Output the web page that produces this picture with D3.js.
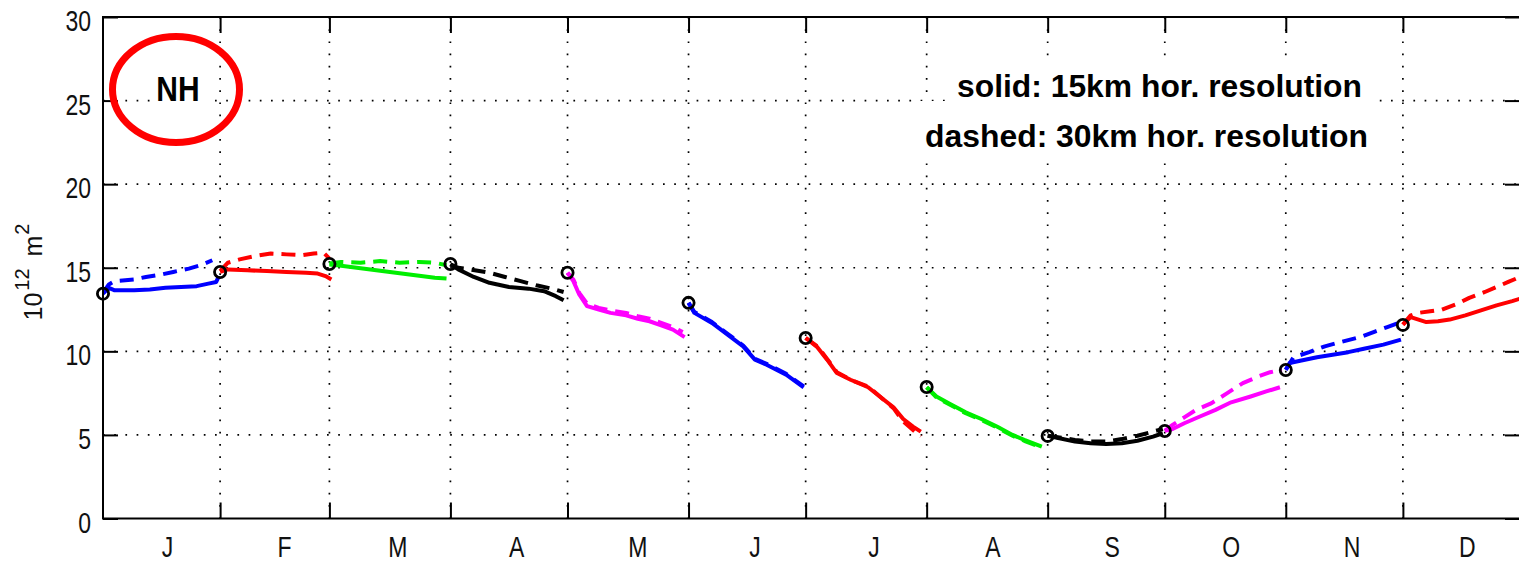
<!DOCTYPE html>
<html><head><meta charset="utf-8">
<script src="https://cdn.jsdelivr.net/npm/d3@7/dist/d3.min.js"></script>
<style>body{margin:0;background:#fff} svg{display:block}</style>
</head><body>
<svg id="c" width="1519" height="563"></svg>
<script>
// ---------- data ----------
const monthLabels = ["J","F","M","A","M","J","J","A","S","O","N","D"];
const monthLabelDays = [17.5,47.5,76.5,107,138,168,198.5,229,259.5,290,321,350.5];
const monthStartDays = [1,31,59,90,120,151,181,212,243,273,304,334];
const boundaryDays = [31,59,90,120,151,181,212,243,273,304,334];
const yTicks = [0,5,10,15,20,25,30];
const gridY = [5,10,15,20,25];
const markerValues = [13.45,14.75,15.22,15.22,14.7,12.9,10.8,7.87,4.94,5.23,8.88,11.58];
const monthColors = ["#0000ff","#ff0000","#00ee00","#000000","#ff00ff","#0000ff","#ff0000","#00ee00","#000000","#ff00ff","#0000ff","#ff0000"];

const solidJan  = [[1,13.45],[2.5,13.8],[4,13.65],[9,13.65],[13,13.7],[17,13.8],[21,13.85],[25,13.9],[28,14.05],[30,14.15],[30.7,14.5]];
const dashedJan = [[1,13.5],[2.5,14.0],[4,14.2],[9,14.3],[12,14.45],[16,14.6],[19,14.75],[23,14.95],[26,15.15],[29,15.45]];
const solidFeb  = [[31,14.75],[33,14.9],[38,14.85],[43,14.8],[48,14.75],[53,14.7],[56,14.65],[58,14.5],[59.5,14.3]];
const dashedFeb = [[31,14.8],[33,15.3],[36,15.5],[40,15.7],[44,15.85],[48,15.8],[52,15.75],[55,15.85],[57.5,15.9],[59,15.55]];
const solidMar  = [[59,15.2],[61,15.15],[66,15.0],[71,14.85],[76,14.7],[81,14.55],[86,14.4],[89,14.35]];
const dashedMar = [[59,15.25],[62,15.35],[67,15.3],[72,15.4],[77,15.3],[82,15.35],[86,15.3],[89,15.15]];
const solidApr  = [[90,15.2],[92,14.9],[96,14.45],[100,14.1],[105,13.85],[110,13.75],[114,13.6],[117,13.3],[119,13.05]];
const dashedApr = [[90,15.2],[92,15.0],[95,14.9],[100,14.7],[104,14.45],[108,14.2],[112,13.95],[116,13.75],[119,13.55]];
const solidMay  = [[120,14.7],[121.5,14.2],[123,13.4],[125,12.7],[128,12.5],[131,12.3],[135,12.15],[138,11.95],[141,11.8],[144,11.55],[147,11.3],[150,10.85]];
const dashedMay = [[120,14.7],[121.5,14.3],[123,13.5],[125,12.85],[128,12.6],[131,12.45],[135,12.3],[138,12.1],[141,11.95],[144,11.7],[147,11.45],[149.5,11.15]];
const solidJun  = [[151,12.9],[152.5,12.3],[157,11.7],[161,11.0],[165,10.3],[168,9.5],[171,9.2],[176,8.6],[180.5,7.85]];
const dashedJun = [[151,12.9],[152.5,12.35],[157,11.75],[161,11.05],[165,10.35],[168,9.55],[171,9.25],[176,8.65],[180.5,7.9]];
const solidJul  = [[181,10.8],[184,10.25],[186.5,9.5],[189,8.7],[192.5,8.3],[197,7.85],[200,7.3],[203.5,6.65],[206,5.95],[208.5,5.5],[210.5,5.2]];
const dashedJul = [[181,10.8],[184,10.3],[186.5,9.55],[189,8.75],[192.5,8.3],[197,7.9],[200,7.3],[203.5,6.6],[206,5.8],[208.5,5.3],[210.5,4.9]];
const solidAug  = [[212,7.85],[214.5,7.3],[218,6.85],[222,6.35],[226,5.95],[230,5.5],[234,5.0],[237,4.7],[241.5,4.3]];
const dashedAug = [[212,7.85],[214.5,7.25],[218,6.8],[222,6.3],[226,5.9],[230,5.45],[234,4.95],[237,4.65],[241.5,4.25]];
const solidSep  = [[243,4.95],[246,4.8],[250,4.6],[254,4.5],[258,4.45],[262,4.5],[266,4.65],[270,4.9],[272.5,5.1]];
const dashedSep = [[243,4.95],[246,4.85],[250,4.7],[254,4.6],[258,4.6],[262,4.75],[266,4.95],[270,5.2],[272.5,5.35]];
const solidOct  = [[273,5.25],[275,5.35],[278,5.7],[282,6.1],[286,6.5],[290,6.95],[295,7.3],[299,7.6],[302.5,7.85]];
const dashedOct = [[273,5.25],[275,5.6],[278,6.05],[281,6.5],[285,6.9],[289,7.5],[293,8.1],[297,8.5],[300,8.75],[303,8.9]];
const solidNov  = [[304,8.9],[305,9.3],[308,9.45],[312,9.65],[316,9.8],[320,9.95],[324,10.15],[329,10.4],[333.5,10.7]];
const dashedNov = [[304,8.9],[306,9.65],[310,9.95],[314,10.3],[318,10.55],[323,10.85],[327,11.2],[330,11.45],[333,11.7]];
const solidDec  = [[334,11.6],[336,12.05],[338,11.9],[340,11.75],[343,11.8],[346,11.9],[350,12.15],[354,12.45],[358,12.75],[362,13.0],[364,13.15]];
const dashedDec = [[334,11.6],[336,12.15],[338,12.3],[341,12.4],[344,12.5],[348,12.85],[351,13.2],[355,13.55],[358,13.85],[361,14.15],[364,14.45]];

const solidSeries  = [solidJan,solidFeb,solidMar,solidApr,solidMay,solidJun,solidJul,solidAug,solidSep,solidOct,solidNov,solidDec];
const dashedSeries = [dashedJan,dashedFeb,dashedMar,dashedApr,dashedMay,dashedJun,dashedJul,dashedAug,dashedSep,dashedOct,dashedNov,dashedDec];

const panelLabel = "NH";
const legendLines = ["solid: 15km hor. resolution", "dashed: 30km hor. resolution"];

// ---------- layout ----------
const L = 103, R = 1520, T = 17, B = 518.5;
const x = d3.scaleLinear().domain([1, 364]).range([L, R]);
const y = d3.scaleLinear().domain([0, 30]).range([B, T]);
const FONT = "'Liberation Sans', Arial, Helvetica, sans-serif";

const svg = d3.select("#c");
svg.append("rect").attr("width",1519).attr("height",563).attr("fill","#fff");

svg.append("defs").append("clipPath").attr("id","plot")
  .append("rect").attr("x",L).attr("y",T).attr("width",R-L).attr("height",B-T);

// grid
const grid = svg.append("g");
grid.selectAll("line.h").data(gridY).join("line")
  .attr("x1",L).attr("x2",R).attr("y1",d=>y(d)).attr("y2",d=>y(d))
  .attr("stroke","#000").attr("stroke-width",1.7).attr("stroke-dasharray","1.7 9.5");
grid.selectAll("line.v").data(boundaryDays).join("line")
  .attr("x1",d=>x(d)).attr("x2",d=>x(d)).attr("y1",T).attr("y2",B)
  .attr("stroke","#000").attr("stroke-width",1.7).attr("stroke-dasharray","1.7 10.5");

// text background boxes (MATLAB-style white text boxes)
svg.append("rect").attr("x",150).attr("y",66).attr("width",62).attr("height",46).attr("fill","#fff");
svg.append("rect").attr("x",948).attr("y",58).attr("width",425).attr("height",43).attr("fill","#fff");
svg.append("rect").attr("x",917).attr("y",101).attr("width",461).attr("height",59).attr("fill","#fff");

// data lines
const line = d3.line().x(d=>x(d[0])).y(d=>y(d[1]));
const data = svg.append("g").attr("clip-path","url(#plot)");
solidSeries.forEach((s,i)=>{
  data.append("path").attr("d",line(s)).attr("fill","none")
    .attr("stroke",monthColors[i]).attr("stroke-width",4)
    .attr("stroke-linejoin","round");
});
dashedSeries.forEach((s,i)=>{
  data.append("path").attr("d",line(s)).attr("fill","none")
    .attr("stroke",monthColors[i]).attr("stroke-width",4)
    .attr("stroke-dasharray","14 8").attr("stroke-linejoin","round");
});

// frame
svg.append("rect").attr("x",L).attr("y",T).attr("width",R-L).attr("height",B-T)
  .attr("fill","none").attr("stroke","#000").attr("stroke-width",2);

// markers (drawn over the frame, unclipped)
svg.append("g").selectAll("circle").data(monthStartDays).join("circle")
  .attr("cx",d=>x(d)).attr("cy",(d,i)=>y(markerValues[i])).attr("r",5.6)
  .attr("fill","none").attr("stroke","#000").attr("stroke-width",2.8);

// ticks via d3 axes (inward)
function styleAxis(g){ g.select(".domain").remove(); g.selectAll("line").attr("stroke","#000").attr("stroke-width",2); g.selectAll("text").remove(); }
svg.append("g").attr("transform",`translate(0,${B})`).call(d3.axisBottom(x).tickValues(boundaryDays).tickSize(-16).tickFormat("")).call(styleAxis);
svg.append("g").attr("transform",`translate(0,${T})`).call(d3.axisTop(x).tickValues(boundaryDays).tickSize(-16).tickFormat("")).call(styleAxis);
svg.append("g").attr("transform",`translate(${L},0)`).call(d3.axisLeft(y).tickValues(yTicks).tickSize(-15).tickFormat("")).call(styleAxis);
svg.append("g").attr("transform",`translate(${R},0)`).call(d3.axisRight(y).tickValues(yTicks).tickSize(-15).tickFormat("")).call(styleAxis);

// y tick labels
svg.append("g").selectAll("g").data(yTicks).join("g")
  .attr("transform",d=>`translate(91,${y(d)+14}) scale(1,1.27)`)
  .append("text").attr("text-anchor","end").attr("font-family",FONT)
  .attr("font-size",23).attr("fill","#111").text(d=>d);

// month labels
svg.append("g").selectAll("g").data(monthLabels).join("g")
  .attr("transform",(d,i)=>`translate(${x(monthLabelDays[i])},557) scale(1,1.3)`)
  .append("text").attr("text-anchor","middle").attr("font-family",FONT)
  .attr("font-size",23).attr("fill","#111").text(d=>d);

// y axis title
const yt = svg.append("text").attr("transform","translate(42,272) rotate(-90)")
  .attr("text-anchor","middle").attr("font-family",FONT).attr("font-size",25).attr("fill","#111");
yt.append("tspan").text("10");
yt.append("tspan").attr("font-size",20).attr("dy",-13).attr("dx",2).text("12");
yt.append("tspan").attr("dy",13).attr("dx",12).text("m");
yt.append("tspan").attr("font-size",20).attr("dy",-13).attr("dx",1).text("2");

// panel label
svg.append("g").attr("transform","translate(178,101) scale(1,1.17)")
  .append("text").attr("text-anchor","middle").attr("font-family",FONT)
  .attr("font-weight","bold").attr("font-size",30).attr("fill","#000").text(panelLabel);
svg.append("ellipse").attr("cx",176).attr("cy",89.5).attr("rx",63.5).attr("ry",53)
  .attr("fill","none").attr("stroke","#ff0000").attr("stroke-width",7);

// legend text
svg.append("text").attr("x",957).attr("y",97).attr("font-family",FONT).attr("font-weight","bold")
  .attr("font-size",31).attr("textLength",405).attr("lengthAdjust","spacingAndGlyphs").attr("fill","#000").text(legendLines[0]);
svg.append("text").attr("x",925).attr("y",147).attr("font-family",FONT).attr("font-weight","bold")
  .attr("font-size",31).attr("textLength",443).attr("lengthAdjust","spacingAndGlyphs").attr("fill","#000").text(legendLines[1]);
</script>
</body></html>
